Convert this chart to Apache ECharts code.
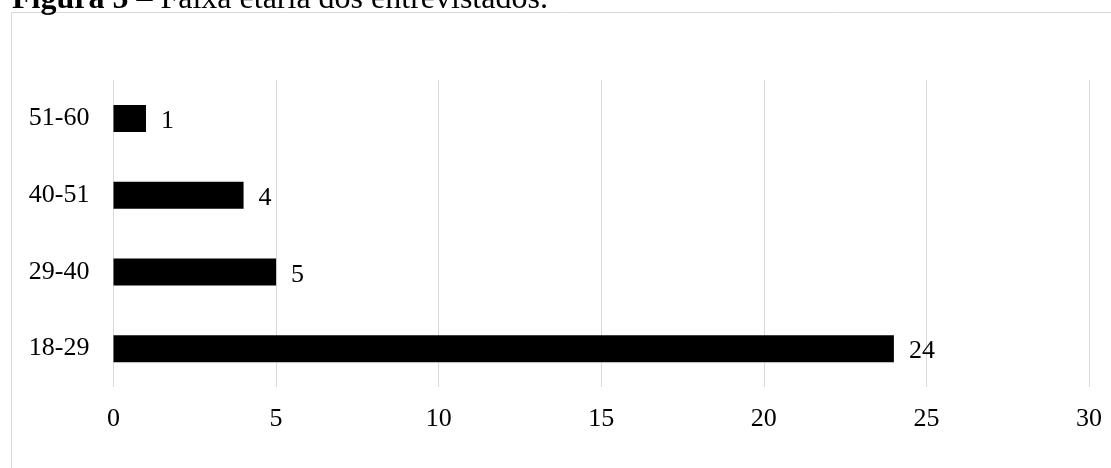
<!DOCTYPE html>
<html>
<head>
<meta charset="utf-8">
<script src="https://cdn.jsdelivr.net/npm/echarts@6/dist/echarts.min.js"></script>
<style>
html,body{margin:0;padding:0;background:#fff;}
#c{width:1111px;height:468px;}
</style>
</head>
<body>
<div id="c"></div>
<script>
const categories = ['18-29', '29-40', '40-51', '51-60'];
const values = [24, 5, 4, 1];
const xTicks = [0, 5, 10, 15, 20, 25, 30];

const FONT = 'Liberation Serif';
const chart = echarts.init(document.getElementById('c'), null, {renderer: 'canvas'});
chart.setOption({
  backgroundColor: '#ffffff',
  animation: false,
  graphic: [
    {
      type: 'rect',
      shape: {x: 11.5, y: 12.5, width: 1120, height: 480},
      style: {fill: 'none', stroke: '#d9d9d9', lineWidth: 1}
    },
    {
      type: 'text',
      x: 12,
      y: 16,
      style: {
        text: '{b|Figura 5}{n| – Faixa etária dos entrevistados.}',
        verticalAlign: 'bottom',
        rich: {
          b: {fontFamily: FONT, fontSize: 32, fontWeight: 'bold', fill: '#000'},
          n: {fontFamily: FONT, fontSize: 32, fill: '#000'}
        }
      }
    }
  ],
  grid: {left: 113.5, right: 22, top: 80, bottom: 81, containLabel: false},
  xAxis: {
    type: 'value',
    min: 0,
    max: 30,
    interval: 5,
    axisLine: {show: false},
    axisTick: {show: false},
    splitLine: {show: true, lineStyle: {color: '#d9d9d9', width: 1}},
    axisLabel: {
      color: '#000', fontFamily: FONT, fontSize: 26, margin: 19,
      formatter: function (v) { return xTicks.indexOf(v) >= 0 ? String(v) : ''; }
    }
  },
  yAxis: {
    type: 'category',
    data: categories,
    axisLine: {show: false},
    axisTick: {show: false},
    splitLine: {show: false},
    axisLabel: {color: '#000', fontFamily: FONT, fontSize: 26, margin: 24}
  },
  series: [{
    type: 'bar',
    data: values,
    barWidth: 27,
    itemStyle: {color: '#000000'},
    label: {
      show: true,
      position: 'right',
      distance: 15,
      color: '#000',
      fontFamily: FONT,
      fontSize: 26,
      offset: [0, 3]
    }
  }]
});
</script>
</body>
</html>
